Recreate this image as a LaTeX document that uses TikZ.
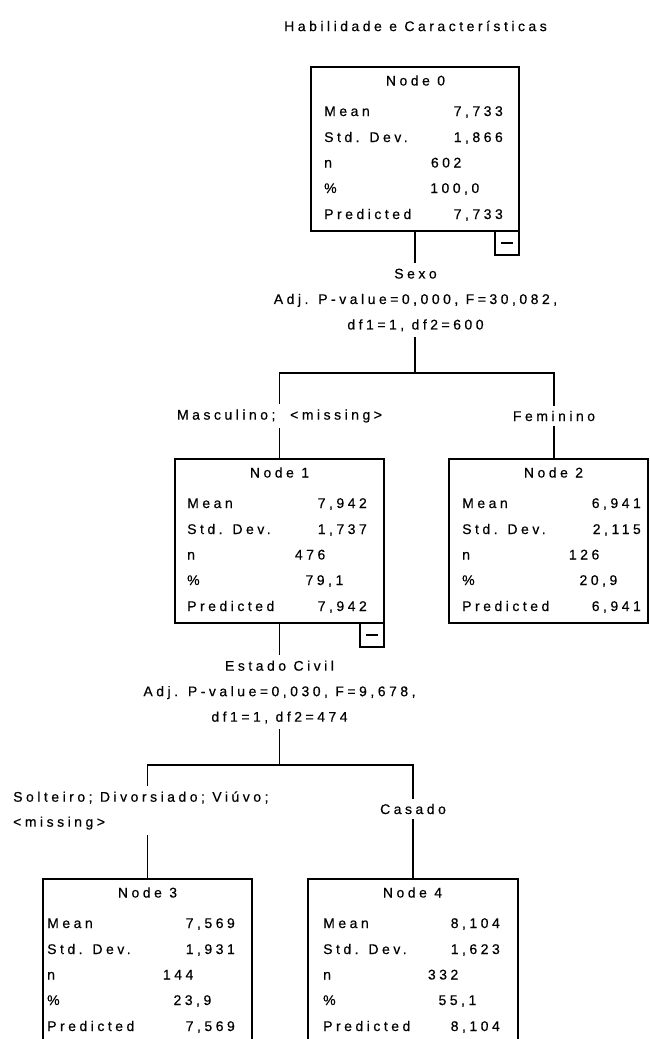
\documentclass[tikz,border=0pt]{standalone}
\usepackage{fontspec}
\setmainfont{Liberation Sans}[LetterSpace=25, FakeBold=0.4]
\usetikzlibrary{calc}
\pgfdeclarelayer{background}
\pgfsetlayers{background,main}
\tikzset{
  treebox/.style={draw, line width=1.4pt, outer sep=0pt, inner sep=0pt, minimum height=164pt, anchor=north west},
  foldbox/.style={draw, line width=1.1pt, outer sep=0pt, inner sep=0pt, minimum size=24pt, anchor=north east},
  conn/.style={line width=1.1pt},
  cell/.style={inner sep=0pt, font=\fontsize{14}{14}\selectfont},
  splitlabel/.style={fill=white, inner xsep=1pt, inner ysep=6pt, align=center, font=\fontsize{14}{25.5}\selectfont},
  branchlabel/.style={fill=white, inner xsep=1pt, inner ysep=5pt, font=\fontsize{14}{25}\selectfont},
}
% #1 id, #2 left, #3 top, #4 width, #5 label inset, #6 mean, #7 std. dev., #8 n, #9 percent
\newcommand\statbox[9]{%
  \node[treebox, minimum width=#4pt] (n#1) at (#2,#3) {};
  \pgfmathsetmacro\colmid{#2+104.5}
  \node[cell, anchor=base] (n#1-head) at (\colmid, #3+18.5) {Node #1};
  \node[cell, anchor=base west] (n#1-mean) at (#2+#5, #3+49) {Mean};
  \node[cell, anchor=base west] (n#1-sd) at (#2+#5, #3+75) {Std. Dev.};
  \node[cell, anchor=base west] (n#1-n) at (#2+#5, #3+100.5) {n};
  \node[cell, anchor=base west] (n#1-pct) at (#2+#5, #3+126) {\%};
  \node[cell, anchor=base west] (n#1-pred) at (#2+#5, #3+152) {Predicted};
  \node[cell, anchor=base east] (n#1-meanv) at (\colmid+87.5, #3+49) {#6};
  \node[cell, anchor=base east] (n#1-sdv) at (\colmid+87.5, #3+75) {#7};
  \node[cell, anchor=base east] (n#1-nv) at (\colmid+46, #3+100.5) {#8};
  \node[cell, anchor=base east] (n#1-pctv) at (\colmid+64, #3+126) {#9};
  \node[cell, anchor=base east] (n#1-predv) at (\colmid+87.5, #3+152) {#6};
}
\newcommand\foldmark[1]{%
  \node[foldbox] (f#1) at (n#1.south east) {};
  \draw[conn] ($(f#1.center)+(-6,0)$) -- ($(f#1.center)+(6,0)$);
}
\begin{document}
\begin{tikzpicture}[x=1pt, y=-1pt]
  \useasboundingbox (0,0) rectangle (650,1039);
  \begin{pgfonlayer}{background}
    \fill[white] (0,0) rectangle (650,1039);
  \end{pgfonlayer}

  \node[cell] (title) at (415.5,26) {Habilidade e Características};

  % tree nodes
  \statbox{0}{311}{67}{208}{13}{7,733}{1,866}{602}{100,0}
  \statbox{1}{175}{459}{209}{12}{7,942}{1,737}{476}{79,1}
  \statbox{2}{449}{459}{199}{13}{6,941}{2,115}{126}{20,9}
  \statbox{3}{43}{879}{209}{4}{7,569}{1,931}{144}{23,9}
  \statbox{4}{308}{879}{210}{15}{8,104}{1,623}{332}{55,1}
  \foldmark{0}
  \foldmark{1}

  % split and branch labels
  \node[splitlabel] (s0) at (415.5,300) {Sexo\\Adj. P-value=0,000, F=30,082,\\df1=1, df2=600};
  \node[splitlabel] (s1) at (279.5,692) {Estado Civil\\Adj. P-value=0,030, F=9,678,\\df1=1, df2=474};
  \node[branchlabel] (l1) at (279.5,416) {Masculino;\ \ <missing>};
  \node[branchlabel] (l2) at (554,416) {Feminino};
  \node[branchlabel, align=left, anchor=west] (l3) at (12,810.5) {Solteiro; Divorsiado; Viúvo;\\<missing>};
  \node[branchlabel] (l4) at (413,809) {Casado};

  % connectors
  \path (n0.south) ++(0,142) coordinate (b0);
  \path (n1.south) ++(0,142) coordinate (b1);
  \coordinate (n2-in) at ($(n2.north west)+(105,0)$);
  \begin{pgfonlayer}{background}
    \draw[conn] (n0.south) -- (b0);
    \draw[conn] (n1.north) -- (n1.north |- b0) -- (n2-in |- b0) -- (n2-in);
    \draw[conn] (n1.south) -- (b1);
    \draw[conn] (n3.north) -- (n3.north |- b1) -- (n4.north |- b1) -- (n4.north);
  \end{pgfonlayer}
\end{tikzpicture}
\end{document}
